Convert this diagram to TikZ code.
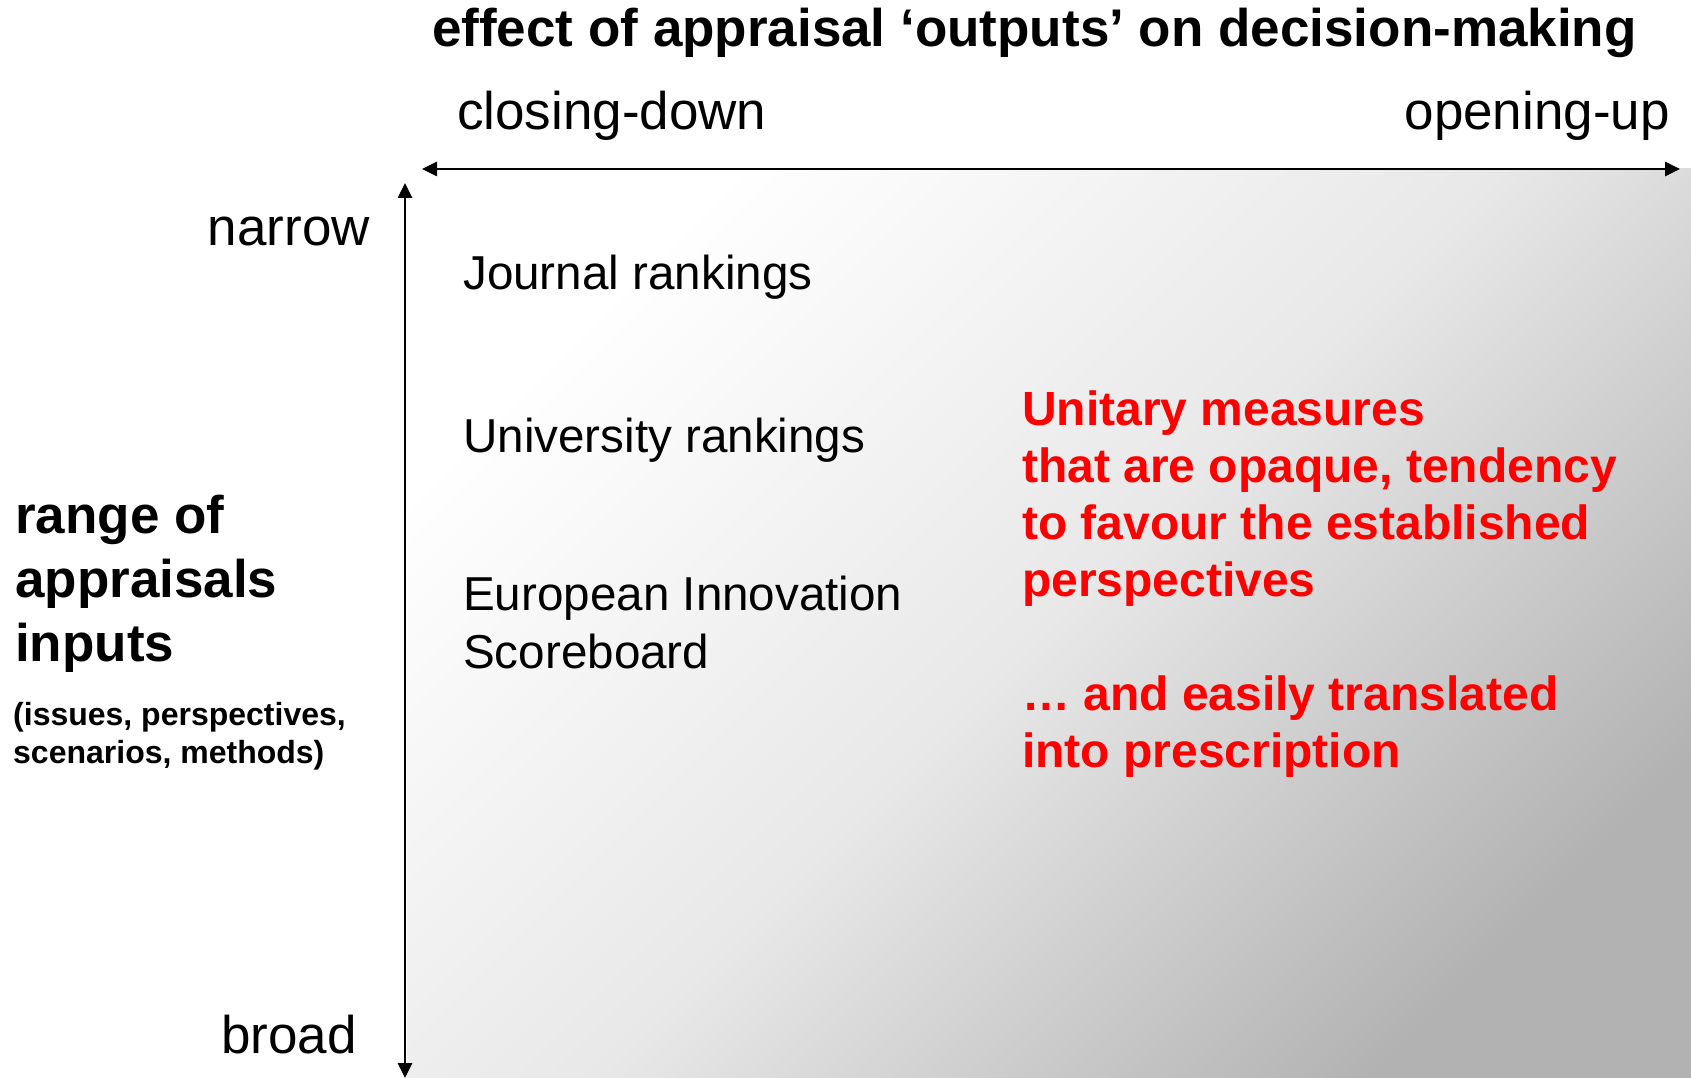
\documentclass[tikz,border=0pt]{standalone}
\usepackage{fontspec}
\setmainfont{Liberation Sans}
\usepackage{tikz}
\usetikzlibrary{arrows.meta,positioning}
\definecolor{apred}{HTML}{FF0000}
\pgfdeclareverticalshading{matfield}{100bp}{color(0bp)=(black!30); color(25bp)=(black!30); color(50bp)=(black!9); color(75bp)=(white); color(100bp)=(white)}

\begin{document}
\begin{tikzpicture}[x=1pt, y=-1pt,
  lbl/.style={inner sep=0pt, font=\fontsize{53}{62}\selectfont},
  item/.style={inner sep=0pt, align=left, font=\fontsize{47.6}{58}\selectfont},
  head/.style={inner sep=0pt, font=\fontsize{53}{64}\selectfont\bfseries},
  hit/.style={inner sep=0pt, align=left, text=apred, font=\fontsize{48}{57}\selectfont\bfseries},
  arr/.style={{Triangle[length=15pt,width=14pt]}-{Triangle[length=15pt,width=14pt]}, line width=2.6pt}
]
\useasboundingbox (0,0) rectangle (1691,1078);
% shaded field of the matrix
\fill[shading=matfield, shading angle=45] (407,169) rectangle (1691,1078);

\coordinate (hl) at (422,169);
\coordinate (hr) at (1680,169);
\coordinate (vt) at (405,183);
\coordinate (vb) at (405,1078);
\draw[arr] (hl) -- (hr);
\draw[arr] (vt) -- (vb);

\node[head, anchor=base west] (title) at (432,47) {effect of appraisal ‘outputs’ on decision-making};
\node[lbl, anchor=base west] (closing) at (457,130) {closing-down};
\node[lbl, anchor=base east] (opening) at (1670,130) {opening-up};
\node[lbl, anchor=base east] (narrow) at (370,245) {narrow};
\node[lbl, anchor=base east] (broad) at (357,1053) {broad};

% multi-line nodes: base is the last line
\node[item, anchor=base west] (journal) at (463,289) {Journal rankings};
\node[item, anchor=base west] (univ) at (463,452) {University rankings};
\node[item, anchor=base west] (eis) at (463,668) {European Innovation\\Scoreboard};

\node[head, align=left, anchor=base west] (range) at (15,661) {range of\\appraisals\\inputs};
\node[inner sep=0pt, align=left, font=\fontsize{32}{38}\selectfont\bfseries, anchor=base west] (rangenote) at (13,763) {(issues, perspectives,\\scenarios, methods)};

\node[hit, anchor=base west] (verdict) at (1022,767) {Unitary measures\\that are opaque, tendency\\to favour the established\\perspectives\\[57pt]… and easily translated\\into prescription};
\end{tikzpicture}
\end{document}
